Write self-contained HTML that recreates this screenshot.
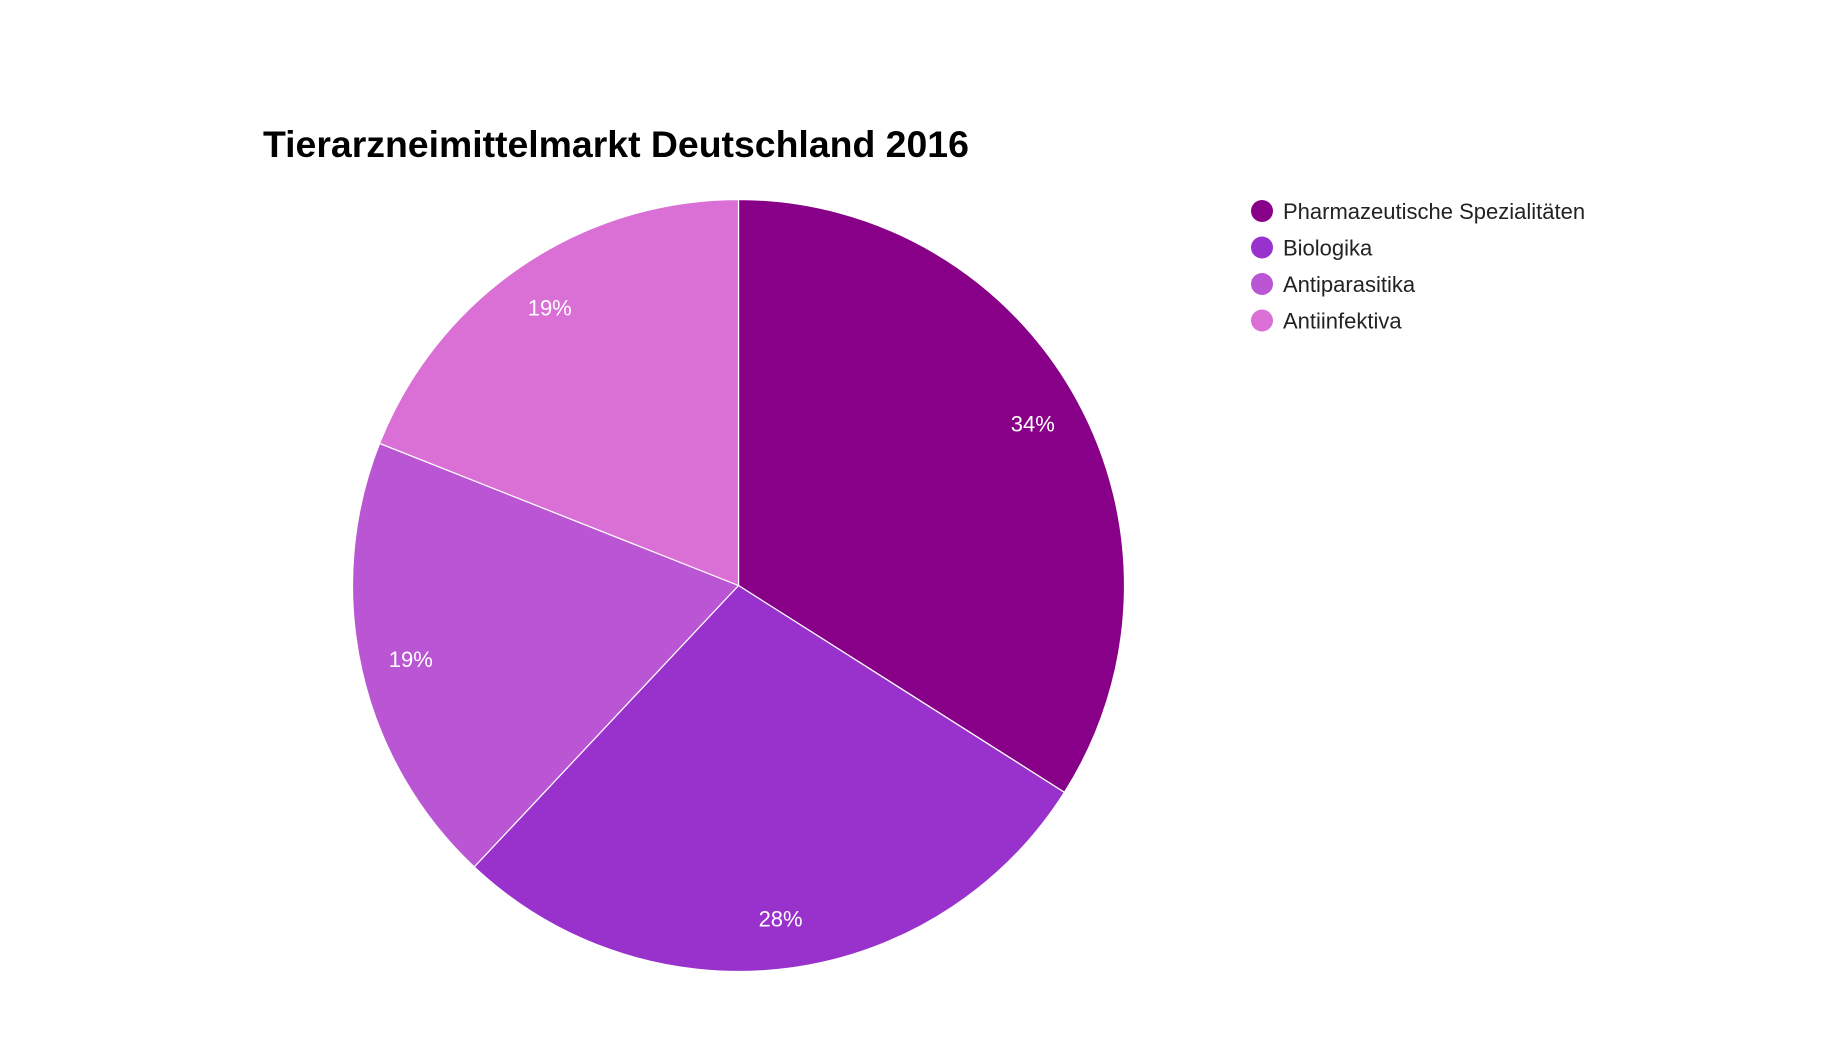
<!DOCTYPE html>
<html><head><meta charset="utf-8"><style>
html,body{margin:0;padding:0;background:#fff;}
svg{display:block;font-family:"Liberation Sans",Arial,sans-serif;}
</style></head><body>
<svg id="chart" width="1829" height="1037">
<text x="263" y="157" font-size="37.4" font-weight="bold" fill="#000">Tierarzneimittelmarkt Deutschland 2016</text>
<g id="slices"></g>
<g id="legend"></g>
</svg>
<script>
const categories = ["Pharmazeutische Spezialitäten","Biologika","Antiparasitika","Antiinfektiva"];
const values = [34,28,19,19];
const labels = ["34%","28%","19%","19%"];
const colors = ["#880088","#9932CC","#BA55D3","#DA70D6"];
const NS="http://www.w3.org/2000/svg";
const cx=738.5, cy=585.5, r=386;
const total=values.reduce((a,b)=>a+b,0);
const sg=document.getElementById('slices');
function pt(a,rr){return [cx+rr*Math.sin(a), cy-rr*Math.cos(a)];}
let acc=0;
values.forEach((v,i)=>{
  const a0=acc/total*2*Math.PI; acc+=v; const a1=acc/total*2*Math.PI;
  const p0=pt(a0,r), p1=pt(a1,r);
  const large=(a1-a0)>Math.PI?1:0;
  const path=document.createElementNS(NS,'path');
  path.setAttribute('d',`M${cx},${cy} L${p0[0]},${p0[1]} A${r},${r} 0 ${large} 1 ${p1[0]},${p1[1]} Z`);
  path.setAttribute('fill',colors[i]);
  path.setAttribute('stroke','#fff');
  path.setAttribute('stroke-width','1.2');
  
  
  sg.appendChild(path);
  const am=(a0+a1)/2, lp=pt(am,r*0.87);
  const t=document.createElementNS(NS,'text');
  t.setAttribute('x',lp[0]); t.setAttribute('y',lp[1]+8);
  t.setAttribute('text-anchor','middle'); t.setAttribute('font-size','22'); t.setAttribute('fill','#fff');
  t.textContent=labels[i];
  
  
  sg.appendChild(t);
});
const lg=document.getElementById('legend');
categories.forEach((c,i)=>{
  const y=211+i*36.5;
  const g=document.createElementNS(NS,'g');
  
  
  const ci=document.createElementNS(NS,'circle');
  ci.setAttribute('cx',1262); ci.setAttribute('cy',y); ci.setAttribute('r',11); ci.setAttribute('fill',colors[i]);
  
  
  const t=document.createElementNS(NS,'text');
  t.setAttribute('x',1283); t.setAttribute('y',y+8); t.setAttribute('font-size','22'); t.setAttribute('fill','#222');
  t.textContent=c;
  
  
  g.appendChild(ci); g.appendChild(t); lg.appendChild(g);
});
</script>
</body></html>
